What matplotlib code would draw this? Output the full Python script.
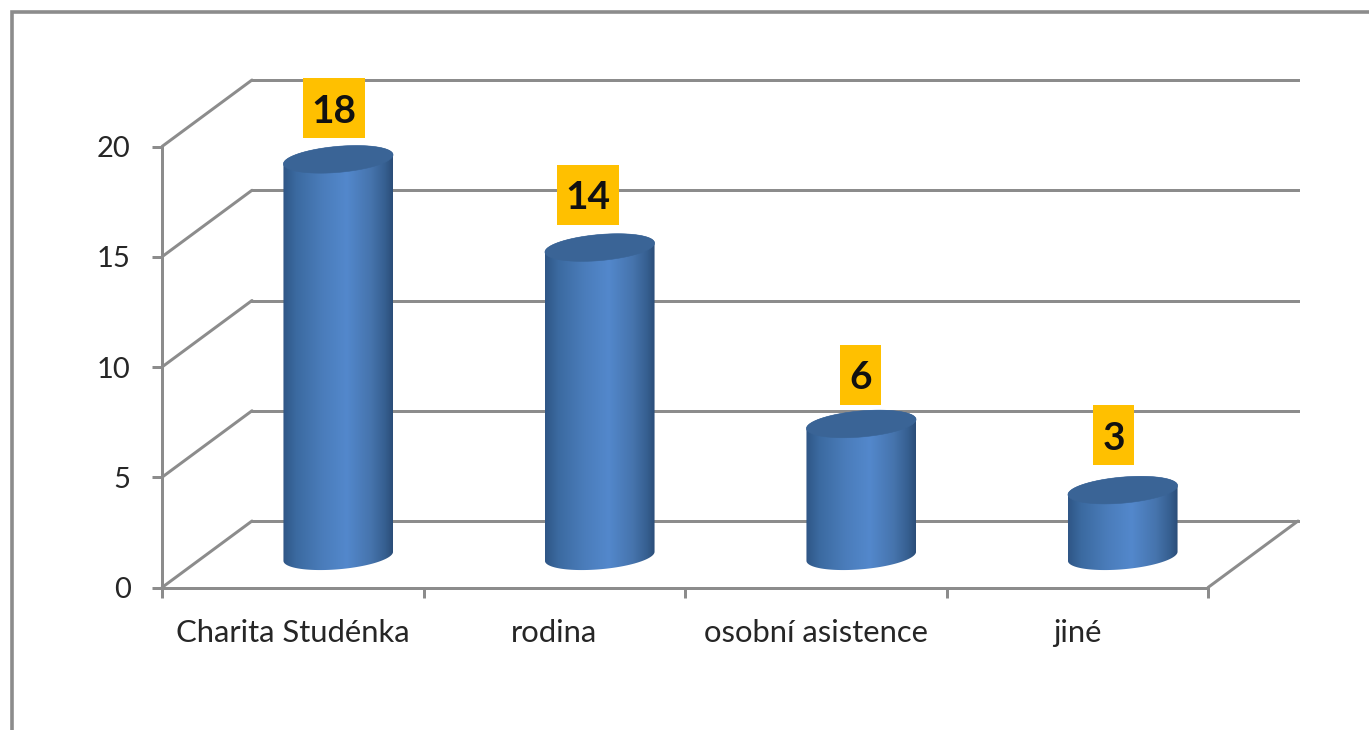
import numpy as np
import matplotlib
matplotlib.use("Agg")
import matplotlib.pyplot as plt
from matplotlib.colors import LinearSegmentedColormap
from matplotlib.lines import Line2D
from matplotlib.patches import Polygon, Rectangle

categories = ["Charita Studénka", "rodina", "osobní asistence", "jiné"]
values = [18, 14, 6, 3]
y_ticks = [0, 5, 10, 15, 20]

W, H = 1369, 730
X0_PX, X1_PX = 162.0, 1208.0
Y0_PX, Y20_PX = 587.5, 146.5
DEPTH_PX = (90.0, 66.5)
GRAY = "#8c8c8c"
TXT = "#262626"
LABEL_SHIFT_PX = [-4, -12, -1, -9]
LABEL_GAP_PX = [21, 23, 19, 25]
plt.rcParams["font.family"] = ["Lato", "DejaVu Sans"]

fig = plt.figure(figsize=(W / 100, H / 100), dpi=100, facecolor="white")
ax = fig.add_axes([0, 0, 1, 1], facecolor="none")

sx = (X1_PX - X0_PX) / len(categories)
sy = (Y0_PX - Y20_PX) / 20.0
xlim = (-X0_PX / sx, (W - X0_PX) / sx)
ylim = (-(H - Y0_PX) / sy, Y0_PX / sy)
ddx, ddy = DEPTH_PX[0] / sx, DEPTH_PX[1] / sy

lw_px = 3.0
lw = lw_px * 0.72

# walls and gridlines
n = len(categories)
for v in y_ticks:
    ax.plot([0, ddx], [v, v + ddy], color=GRAY, lw=lw, zorder=1, solid_capstyle="round")
    ax.plot([ddx, n + ddx], [v + ddy, v + ddy], color=GRAY, lw=lw, zorder=1)
ax.plot([n, n + ddx], [0, ddy], color=GRAY, lw=lw, zorder=1, solid_capstyle="round")

# cylinders
cmap = LinearSegmentedColormap.from_list(
    "cyl",
    [(0, "#2f5686"), (0.12, "#3b6aa0"), (0.35, "#4a7cba"), (0.58, "#5388cc"),
     (0.8, "#4674ad"), (0.93, "#365f90"), (1, "#2b4d78")],
)
grad = np.linspace(0, 1, 256).reshape(1, -1)
A, B, TH = 55.0, 13.0, np.radians(5.0)
t0 = np.arctan2(-B * np.sin(TH), A * np.cos(TH))


def ell(cx, cy, t):
    dx = A * np.cos(t) * np.cos(TH) - B * np.sin(t) * np.sin(TH)
    dy = A * np.cos(t) * np.sin(TH) + B * np.sin(t) * np.cos(TH)
    return np.column_stack([cx + dx / sx, cy + dy / sy])


for i, val in enumerate(values):
    cx = i + 0.5 + ddx / 2 + 0.5 / sx
    cy0 = ddy / 2 - 2 / sy
    lower = ell(cx, cy0, np.linspace(t0 + np.pi, t0 + 2 * np.pi, 80))
    upper = ell(cx, cy0 + val, np.linspace(t0, t0 + np.pi, 80))
    body = Polygon(np.vstack([lower, upper]), closed=True, fc="none", ec="none",
                   transform=ax.transData)
    ax.add_patch(body)
    hw = np.sqrt((A * np.cos(TH)) ** 2 + (B * np.sin(TH)) ** 2) / sx
    im = ax.imshow(grad, extent=[cx - hw, cx + hw, cy0 - 2, cy0 + val + 2], aspect="auto",
                   cmap=cmap, zorder=3, interpolation="bilinear")
    im.set_clip_path(body)
    ax.add_patch(Polygon(ell(cx, cy0 + val, np.linspace(0, 2 * np.pi, 160)), closed=True,
                         fc="#3a6496", ec="#3a6496", lw=0.4, zorder=4))

    # value labels
    label = str(val)
    bw = (20 + 21 * len(label)) / sx
    bh = 60 / sy
    bottom = cy0 + val + LABEL_GAP_PX[i] / sy
    bx = cx + LABEL_SHIFT_PX[i] / sx
    ax.add_patch(Rectangle((bx - bw / 2, bottom), bw, bh, fc="#FFC000", ec="none", zorder=5))
    ax.text(bx, bottom + bh / 2, label, ha="center", va="center_baseline", fontsize=28,
            fontweight="bold", color="#111111", zorder=6)

ax.set_xlim(xlim)
ax.set_ylim(ylim)

# axes
for s in ["top", "right"]:
    ax.spines[s].set_visible(False)
for s in ["left", "bottom"]:
    ax.spines[s].set_color(GRAY)
    ax.spines[s].set_linewidth(lw)
    ax.spines[s].set_position(("data", 0))
    ax.spines[s].set_zorder(2)
ax.spines["left"].set_bounds(0, 20)
ax.spines["bottom"].set_bounds(0, n)

ax.set_yticks(y_ticks)
ax.set_yticklabels([str(v) for v in y_ticks])
ax.tick_params(axis="y", length=7.5, width=lw, color=GRAY, labelsize=21,
               labelcolor=TXT, pad=15)
ax.set_xticks(range(n + 1))
ax.set_xticklabels([])
ax.tick_params(axis="x", which="major", length=7.5, width=lw, color=GRAY)
ax.set_xticks([i + 0.5 for i in range(n)], minor=True)
ax.set_xticklabels(categories, minor=True)
ax.tick_params(axis="x", which="minor", length=0, labelsize=22.3, labelcolor=TXT, pad=23)
ax.patch.set_visible(False)

# outer frame
fig.add_artist(Line2D([12 / W, 12 / W, 1], [0, 1 - 12 / H, 1 - 12 / H],
                      color=GRAY, lw=3.6 * 0.72, solid_joinstyle="miter"))

fig.savefig("out.png", dpi=100, facecolor="white")
